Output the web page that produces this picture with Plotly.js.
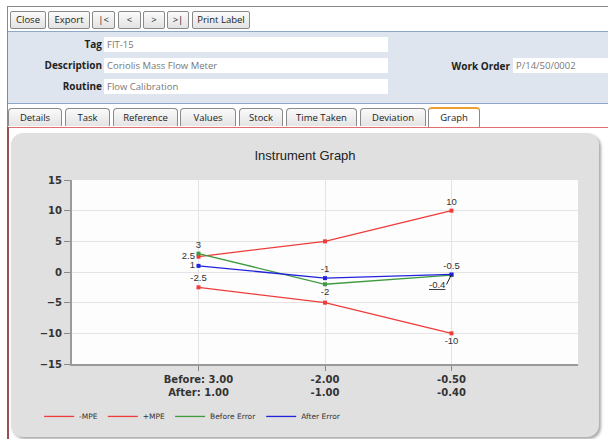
<!DOCTYPE html>
<html><head><meta charset="utf-8">
<script src="https://cdn.plot.ly/plotly-3.0.1.min.js"></script>
<style>
body{margin:0;width:608px;height:439px;overflow:hidden;background:#fff;font-family:"Open Sans","DejaVu Sans",sans-serif;position:relative}
.abs{position:absolute}
.btn{position:absolute;top:11px;height:16px;border:1px solid #8a8a8a;border-radius:2px;background:linear-gradient(#fbfbfb,#e2e2e2);font-size:9.5px;line-height:16px;text-align:center;color:#222;box-sizing:content-box}
.lbl{position:absolute;font-weight:bold;font-size:10px;color:#222;text-align:right}
.inp{position:absolute;background:#fff;height:15px;font-size:9.5px;line-height:15px;color:#777;padding-left:3px;box-sizing:border-box}
.tab{position:absolute;top:108px;height:18px;border:1px solid #8a8a8a;border-bottom:none;border-radius:4px 4px 0 0;background:linear-gradient(#fafafa,#e4e4e4);font-size:9.5px;line-height:18px;text-align:center;color:#222;box-sizing:border-box}
</style></head><body>
<div class="abs" style="left:7px;top:6px;width:601px;height:1px;background:#8a8a8a"></div>
<div class="abs" style="left:7px;top:6px;width:1px;height:433px;background:#8a8a8a"></div>
<div class="btn" style="left:10px;width:34px">Close</div>
<div class="btn" style="left:48px;width:40px">Export</div>
<div class="btn" style="left:92px;width:21px">|&lt;</div>
<div class="btn" style="left:118px;width:21px">&lt;</div>
<div class="btn" style="left:143px;width:20px">&gt;</div>
<div class="btn" style="left:167px;width:20px">&gt;|</div>
<div class="btn" style="left:192px;width:56px">Print Label</div>
<div class="abs" style="left:8px;top:31px;width:600px;height:71px;background:#dfe5ee;border-top:1px solid #8ea6c8;border-bottom:1px solid #8ea6c8"></div>
<div class="lbl" style="left:20px;width:82px;top:37px">Tag</div>
<div class="inp" style="left:104px;top:37px;width:284px">FIT-15</div>
<div class="lbl" style="left:20px;width:82px;top:58px">Description</div>
<div class="inp" style="left:104px;top:58px;width:284px">Coriolis Mass Flow Meter</div>
<div class="lbl" style="left:20px;width:82px;top:79px">Routine</div>
<div class="inp" style="left:104px;top:79px;width:284px">Flow Calibration</div>
<div class="lbl" style="left:440px;width:70px;top:59px">Work Order</div>
<div class="inp" style="left:513px;top:58px;width:95px">P/14/50/0002</div>
<div class="tab" style="left:8px;width:54px">Details</div>
<div class="tab" style="left:65px;width:45px">Task</div>
<div class="tab" style="left:113px;width:65px">Reference</div>
<div class="tab" style="left:180px;width:56px">Values</div>
<div class="tab" style="left:239px;width:44px">Stock</div>
<div class="tab" style="left:286px;width:71px">Time Taken</div>
<div class="tab" style="left:360px;width:66px">Deviation</div>
<div class="tab" style="left:428px;width:52px;background:#fff;border-top:2px solid #f0a030;height:20px;top:107px">Graph</div>
<div class="abs" style="left:7px;top:127px;width:601px;height:1px;background:#e07070"></div>
<div class="abs" style="left:7px;top:127px;width:2px;height:312px;background:#9a5050"></div>
<div class="abs" style="left:11px;top:133px;width:588px;height:304px;background:#e0e0e0;border-radius:12px;box-shadow:2px 2px 3px #a8a8a8"></div>
<div id="chart" class="abs" style="left:11px;top:133px;width:588px;height:304px"></div>
<script>
var categories = [0, 1, 2];
var tickLabels = ['Before: 3.00<br>After: 1.00', '-2.00<br>-1.00', '-0.50<br>-0.40'];
var seriesNames = ['-MPE', '+MPE', 'Before Error', 'After Error'];
var minusMPE = [-2.5, -5, -10];
var plusMPE = [2.5, 5, 10];
var beforeError = [3, -2, -0.5];
var afterError = [1, -1, -0.4];

var lblFont = {family:'Liberation Sans, Arial', size:9.5, color:'#333'};
var red = '#ee3b3b', green = '#3f9a3f', blue = '#2222dd';
var colors = [red, red, green, blue];
function tr(name, y, color, text, pos){
  return {x:categories, y:y, name:name, type:'scatter', mode:'lines+markers+text', showlegend:false,
    line:{color:color, width:1.3}, marker:{color:color, size:4, symbol:'square'},
    text:text, textposition:pos, textfont:lblFont, cliponaxis:false};
}
var data = [
  tr(seriesNames[0], minusMPE, red, [String(minusMPE[0]), '', String(minusMPE[2])], ['top center','top center','bottom center']),
  tr(seriesNames[1], plusMPE, red, [String(plusMPE[0]), '', String(plusMPE[2])], ['middle left','top center','top center']),
  tr(seriesNames[2], beforeError, green, [String(beforeError[0]), String(beforeError[1]), String(beforeError[2])], ['top center','bottom center','top center']),
  tr(seriesNames[3], afterError, blue, [String(afterError[0]), String(afterError[1]), ''], ['middle left','top center','top center'])
];
// legend-only entries (line symbols without markers, as in the reference legend)
seriesNames.forEach(function(n, i){
  data.push({x:[null], y:[null], name:n, type:'scatter', mode:'lines', line:{color:colors[i], width:1.3}, showlegend:true, hoverinfo:'skip'});
});
var layout = {
  width:588, height:304,
  margin:{l:61, r:21, t:47, b:73, autoexpand:false},
  paper_bgcolor:'rgba(0,0,0,0)', plot_bgcolor:'#fdfdfd',
  title:{text:'Instrument Graph', font:{family:'Liberation Sans, Arial', size:13, color:'#222'}, x:0.5, xanchor:'center', y:0.925, yanchor:'middle'},
  showlegend:true,
  legend:{orientation:'h', x:-0.065, xanchor:'left', y:-0.285, yanchor:'middle', font:{family:'DejaVu Sans', size:7.5, color:'#333'}, bgcolor:'rgba(0,0,0,0)', itemwidth:30, tracegroupgap:0},
  xaxis:{range:[-1,3], tickvals:categories, ticktext:tickLabels, showgrid:true, gridcolor:'#e4e4e4', zeroline:false,
    showline:true, linecolor:'#9a9a9a', linewidth:2, ticks:'outside', ticklen:5, tickcolor:'#888',
    tickfont:{family:'DejaVu Sans', size:10, color:'#333', weight:'bold'}, fixedrange:true},
  yaxis:{range:[-15,15], tickvals:[-15,-10,-5,0,5,10,15], showgrid:true, gridcolor:'#e4e4e4', zeroline:false,
    showline:true, linecolor:'#9a9a9a', linewidth:2, ticks:'outside', ticklen:6, tickcolor:'#888',
    tickfont:{family:'DejaVu Sans', size:10, color:'#333', weight:'bold'}, fixedrange:true},
  annotations:[{x:categories[2], y:afterError[2], xref:'x', yref:'y', text:'<u>'+String(afterError[2])+'</u>', showarrow:true,
    arrowhead:0, arrowwidth:1, arrowcolor:'#222', ax:-5, ay:10, xanchor:'right', font:lblFont}]
};
Plotly.newPlot('chart', data, layout, {displayModeBar:false, staticPlot:true});
</script>
</body></html>
